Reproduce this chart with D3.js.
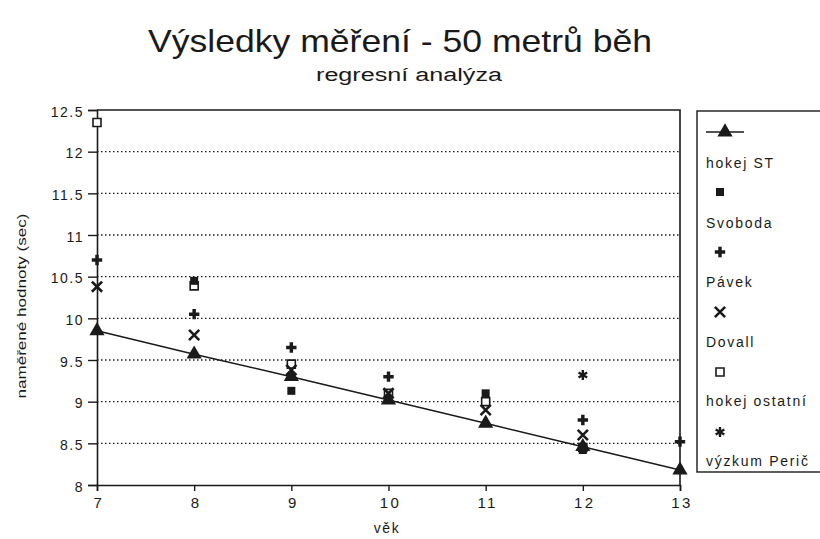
<!DOCTYPE html>
<html>
<head>
<meta charset="utf-8">
<script src="https://cdn.jsdelivr.net/npm/d3@7"></script>
<style>
  html, body { margin: 0; padding: 0; background: #fff; }
  svg { display: block; font-family: "Liberation Sans", Arial, sans-serif; }
</style>
</head>
<body>
<svg id="chart" width="820" height="539"></svg>
<script>
// Measured 50 m sprint times (sec) by age
const ages = [7, 8, 9, 10, 11, 12, 13];
const yTicks = [8, 8.5, 9, 9.5, 10, 10.5, 11, 11.5, 12, 12.5];

const hokejST = [9.85, 9.57, 9.3, 9.02, 8.74, 8.46, 8.18];

const svobodaAges = [8, 9, 11, 12];
const svobodaVals = [10.45, 9.13, 9.1, 8.42];

const pavekAges = [7, 8, 9, 10, 12, 13];
const pavekVals = [10.7, 10.05, 9.65, 9.3, 8.78, 8.52];

const dovallAges = [7, 8, 9, 10, 11, 12];
const dovallVals = [10.38, 9.8, 9.38, 9.1, 8.9, 8.6];

const ostatniAges = [7, 8, 9, 10, 11, 12];
const ostatniVals = [12.35, 10.39, 9.45, 9.1, 9.0, 8.45];

const pericAges = [12];
const pericVals = [9.32];

const legendNames = ["hokej ST", "Svoboda", "Pávek", "Dovall", "hokej ostatní", "výzkum Perič"];

const svg = d3.select("#chart");
const ink = "#1a1a1a";

const x = d3.scaleLinear().domain([7, 13]).range([97, 680]);
const y = d3.scaleLinear().domain([8, 12.5]).range([485, 110]);

// titles
svg.append("text")
  .attr("x", 400).attr("y", 52)
  .attr("text-anchor", "middle")
  .attr("font-size", 32)
  .attr("textLength", 504).attr("lengthAdjust", "spacingAndGlyphs")
  .attr("fill", ink)
  .text("Výsledky měření - 50 metrů běh");

svg.append("text")
  .attr("x", 409).attr("y", 81)
  .attr("text-anchor", "middle")
  .attr("font-size", 18)
  .attr("textLength", 186).attr("lengthAdjust", "spacingAndGlyphs")
  .attr("fill", ink)
  .text("regresní analýza");

// dotted grid
svg.append("g")
  .selectAll("line")
  .data(yTicks.filter(d => d > 8 && d < 12.5))
  .join("line")
  .attr("x1", x(7)).attr("x2", x(13))
  .attr("y1", d => y(d)).attr("y2", d => y(d))
  .attr("stroke", ink).attr("stroke-width", 1.3)
  .attr("stroke-dasharray", "1.5,2.5");

// frame top and right
svg.append("path")
  .attr("d", `M${x(7)},${y(12.5)}H${x(13)}V${y(8)}`)
  .attr("fill", "none").attr("stroke", ink).attr("stroke-width", 1.6);

// axes
const yAxis = svg.append("g")
  .attr("transform", `translate(${x(7)},0)`)
  .call(d3.axisLeft(y).tickValues(yTicks).tickSize(9).tickPadding(4).tickFormat(d => String(d)));
const xAxis = svg.append("g")
  .attr("transform", `translate(0,${y(8)})`)
  .call(d3.axisBottom(x).tickValues(ages).tickSize(6).tickPadding(6).tickFormat(d => String(d)));

[yAxis, xAxis].forEach(g => {
  g.select(".domain").attr("stroke", ink).attr("stroke-width", 1.6);
  g.selectAll(".tick line").attr("stroke", ink).attr("stroke-width", 1.4);
  g.selectAll(".tick text").attr("fill", ink).attr("font-size", 14)
    .attr("letter-spacing", 1.5)
    .attr("font-family", "'Liberation Sans', Arial, sans-serif");
});
yAxis.selectAll(".tick text").attr("dy", "0.45em");
xAxis.selectAll(".tick text").attr("font-size", 15).attr("letter-spacing", 2.5).attr("dx", "0.1em");

// axis titles
svg.append("text")
  .attr("transform", "translate(26,306) rotate(-90)")
  .attr("text-anchor", "middle")
  .attr("font-size", 13)
  .attr("textLength", 185).attr("lengthAdjust", "spacingAndGlyphs")
  .attr("fill", ink)
  .text("naměřené hodnoty (sec)");

svg.append("text")
  .attr("x", 387).attr("y", 533)
  .attr("text-anchor", "middle")
  .attr("font-size", 14)
  .attr("letter-spacing", 1.5)
  .attr("fill", ink)
  .text("věk");

// marker painters
const markers = {
  tri: g => g.append("path").attr("d", d3.symbol(d3.symbolTriangle, 100)()).attr("fill", ink),
  sq: g => g.append("path").attr("d", d3.symbol(d3.symbolSquare, 64)()).attr("fill", ink),
  plus: g => g.append("path").attr("d", d3.symbol(d3.symbolCross, 60)()).attr("fill", ink),
  x: g => g.append("path").attr("d", d3.symbol(d3.symbolX, 70)()).attr("fill", "none").attr("stroke", ink).attr("stroke-width", 2.6),
  open: g => g.append("path").attr("d", d3.symbol(d3.symbolSquare, 64)()).attr("fill", "#fff").attr("stroke", ink).attr("stroke-width", 1.6),
  ast: g => g.append("path").attr("d", d3.symbol(d3.symbolAsterisk, 70)()).attr("fill", "none").attr("stroke", ink).attr("stroke-width", 2.4)
};

function drawPoints(agesArr, vals, kind) {
  const g = svg.append("g");
  agesArr.forEach((a, i) => {
    const m = g.append("g").attr("transform", `translate(${x(a)},${y(vals[i])})`);
    markers[kind](m);
  });
}

// regression line for hokej ST
svg.append("path")
  .datum(ages.map((a, i) => [a, hokejST[i]]))
  .attr("d", d3.line().x(d => x(d[0])).y(d => y(d[1])))
  .attr("fill", "none").attr("stroke", ink).attr("stroke-width", 1.5);

drawPoints(ostatniAges, ostatniVals, "open");
drawPoints(svobodaAges, svobodaVals, "sq");
drawPoints(pavekAges, pavekVals, "plus");
drawPoints(dovallAges, dovallVals, "x");
drawPoints(pericAges, pericVals, "ast");
drawPoints(ages, hokejST, "tri");

// legend
const legend = svg.append("g");
legend.append("rect")
  .attr("x", 697).attr("y", 111).attr("width", 140).attr("height", 361)
  .attr("fill", "#fff").attr("stroke", ink).attr("stroke-width", 1.4);

const legendKinds = ["tri", "sq", "plus", "x", "open", "ast"];
legendKinds.forEach((k, i) => {
  const sy = 132 + i * 60;
  const ty = 168 + i * 59.5;
  if (k === "tri") {
    legend.append("line").attr("x1", 706).attr("x2", 744).attr("y1", sy).attr("y2", sy)
      .attr("stroke", ink).attr("stroke-width", 1.4);
  }
  const m = legend.append("g").attr("transform", `translate(${k === "tri" ? 725 : 720},${sy})`);
  markers[k](m);
  legend.append("text")
    .attr("x", 706).attr("y", ty)
    .attr("font-size", 14).attr("letter-spacing", 1.7).attr("fill", ink)
    .text(legendNames[i]);
});
</script>
</body>
</html>
